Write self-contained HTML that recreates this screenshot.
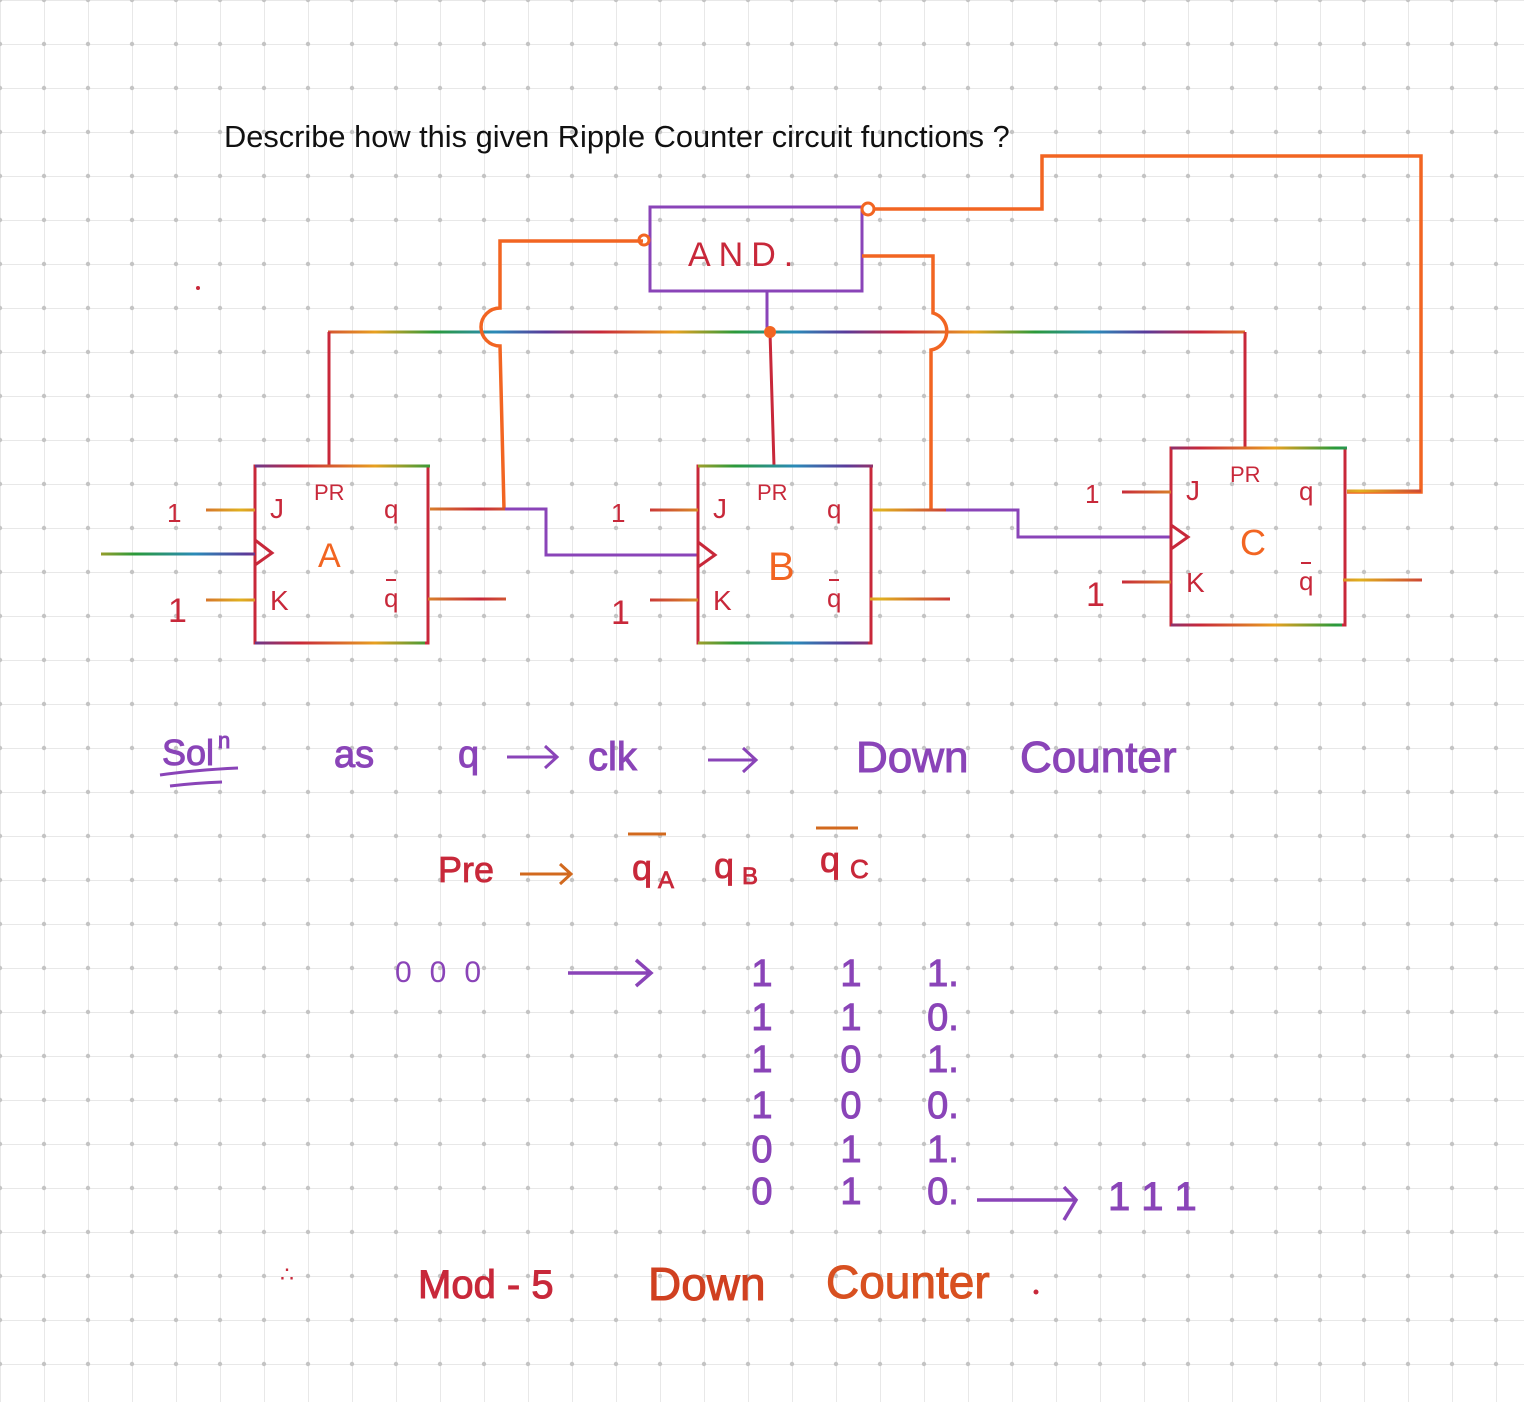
<!DOCTYPE html>
<html><head><meta charset="utf-8">
<style>
html,body{margin:0;padding:0;background:#fff;}
svg{display:block;}
text{font-family:"Liberation Sans",sans-serif;}
</style></head>
<body>
<svg id="s" width="1524" height="1402" viewBox="0 0 1524 1402" xmlns="http://www.w3.org/2000/svg">
<defs>
<pattern id="grid" width="44" height="44" patternUnits="userSpaceOnUse">
<path d="M0 0H44M0 0V44" stroke="#e8e8e8" stroke-width="2" fill="none"/>
<circle cx="0" cy="0" r="2.2" fill="#c4c4c4"/><circle cx="44" cy="0" r="2.2" fill="#c4c4c4"/><circle cx="0" cy="44" r="2.2" fill="#c4c4c4"/><circle cx="44" cy="44" r="2.2" fill="#c4c4c4"/>
</pattern>
<linearGradient id="rb" gradientUnits="userSpaceOnUse" x1="0" y1="0" x2="300" y2="0" spreadMethod="repeat">
<stop offset="0" stop-color="#c8283a"/><stop offset="0.25" stop-color="#e8a020"/><stop offset="0.45" stop-color="#2a9a3a"/><stop offset="0.65" stop-color="#2a8ab8"/><stop offset="0.82" stop-color="#5a3a9a"/><stop offset="1" stop-color="#c8283a"/>
</linearGradient>
<linearGradient id="ry" gradientUnits="userSpaceOnUse" x1="0" y1="0" x2="80" y2="0" spreadMethod="reflect">
<stop offset="0" stop-color="#c8283a"/><stop offset="1" stop-color="#e0b020"/>
</linearGradient>
</defs>
<rect width="1524" height="1402" fill="url(#grid)"/>

<text x="224" y="147" font-size="30.8" fill="#111">Describe how this given Ripple Counter circuit functions ?</text>
<circle cx="198" cy="288" r="2" fill="#c8283a"/>

<g>
<rect x="650" y="207" width="212" height="84" fill="none" stroke="#8a44b8" stroke-width="3"/>
<text x="688" y="266" font-size="34" fill="#c8283a" letter-spacing="8">AND.</text>
</g>

<g fill="none" stroke-width="3">
<path d="M328 332H1245" stroke="url(#rb)"/>
<path d="M329 332V466M770 332L774 466M1245 332V448" stroke="#c8283a"/>
<path d="M767 291V332" stroke="#8a44b8"/>
</g>

<g fill="none" stroke="#f26522" stroke-width="3.5">
<path d="M643 241H500V308A19 19 0 0 0 500 346L504 509"/>
<circle cx="644" cy="240" r="5" stroke-width="3"/>
<path d="M862 256H933V313A19 19 0 0 1 931 350V510"/>
<path d="M874 209H1042V156H1421V492H1347"/>
<circle cx="868" cy="209" r="6" stroke-width="3"/>
<circle cx="770" cy="332" r="6" fill="#f26522" stroke="none"/>
</g>

<g>
<rect x="255" y="466" width="173" height="177" fill="none" stroke="#c8283a" stroke-width="3"/>
<path d="M255 466H430M255 643H425" stroke="url(#rb)" stroke-width="3"/>
<path d="M255 540L272 553L255 565" fill="none" stroke="#c8283a" stroke-width="3"/>
<text x="270" y="518" font-size="28" fill="#c8283a">J</text>
<text x="314" y="500" font-size="22" fill="#c8283a">PR</text>
<text x="384" y="518" font-size="26" fill="#c8283a">q</text>
<text x="318" y="567" font-size="34" fill="#f26522">A</text>
<text x="270" y="610" font-size="28" fill="#c8283a">K</text>
<text x="384" y="607" font-size="26" fill="#c8283a">q</text><path d="M386 580H396" stroke="#c8283a" stroke-width="2"/>
<text x="167" y="522" font-size="26" fill="#c8283a">1</text>
<text x="168" y="622" font-size="34" fill="#c8283a">1</text>
<path d="M206 510H255M206 600H255" stroke="url(#ry)" stroke-width="3"/>
<path d="M101 554H255" stroke="url(#rb)" stroke-width="3"/>
<path d="M430 509H505M428 599H506" stroke="url(#ry)" stroke-width="3"/>
</g>
<path d="M505 509H546V555H698" fill="none" stroke="#8a44b8" stroke-width="3"/>

<g>
<rect x="698" y="466" width="173" height="177" fill="none" stroke="#c8283a" stroke-width="3"/>
<path d="M698 466H873M698 643H868" stroke="url(#rb)" stroke-width="3"/>
<path d="M698 542L715 555L698 567" fill="none" stroke="#c8283a" stroke-width="3"/>
<text x="713" y="518" font-size="28" fill="#c8283a">J</text>
<text x="757" y="500" font-size="22" fill="#c8283a">PR</text>
<text x="827" y="518" font-size="26" fill="#c8283a">q</text>
<text x="768" y="580" font-size="40" fill="#f26522">B</text>
<text x="713" y="610" font-size="28" fill="#c8283a">K</text>
<text x="827" y="607" font-size="26" fill="#c8283a">q</text><path d="M829 580H839" stroke="#c8283a" stroke-width="2"/>
<text x="611" y="522" font-size="26" fill="#c8283a">1</text>
<text x="611" y="624" font-size="34" fill="#c8283a">1</text>
<path d="M650 510H698M650 600H698" stroke="url(#ry)" stroke-width="3"/>
<path d="M873 510H946M870 599H950" stroke="url(#ry)" stroke-width="3"/>
</g>
<path d="M946 510H1018V537H1170" fill="none" stroke="#8a44b8" stroke-width="3"/>

<g>
<rect x="1171" y="448" width="174" height="177" fill="none" stroke="#c8283a" stroke-width="3"/>
<path d="M1171 448H1347M1171 625H1342" stroke="url(#rb)" stroke-width="3"/>
<path d="M1171 525L1188 537L1171 549" fill="none" stroke="#c8283a" stroke-width="3"/>
<text x="1186" y="500" font-size="28" fill="#c8283a">J</text>
<text x="1230" y="482" font-size="22" fill="#c8283a">PR</text>
<text x="1299" y="500" font-size="26" fill="#c8283a">q</text>
<text x="1240" y="555" font-size="36" fill="#f26522">C</text>
<text x="1186" y="592" font-size="28" fill="#c8283a">K</text>
<text x="1299" y="590" font-size="26" fill="#c8283a">q</text><path d="M1301 563H1311" stroke="#c8283a" stroke-width="2"/>
<text x="1085" y="503" font-size="26" fill="#c8283a">1</text>
<text x="1086" y="606" font-size="34" fill="#c8283a">1</text>
<path d="M1122 492H1171M1122 582H1171" stroke="url(#ry)" stroke-width="3"/>
<path d="M1347 491H1421M1343 580H1422" stroke="url(#ry)" stroke-width="3"/>
</g>

<g fill="#8a44b8" stroke="#8a44b8" stroke-width="1">
<text x="162" y="765" font-size="36">Sol</text><text x="218" y="748" font-size="22">n</text>
<path d="M160 775Q195 770 238 768M170 786Q195 783 222 782" stroke-width="3" fill="none"/>
<text x="334" y="767" font-size="38">as</text>
<text x="458" y="767" font-size="38">q</text>
<path d="M507 757H556M545 746L557 757L545 768" stroke-width="3" fill="none"/>
<text x="588" y="770" font-size="40">clk</text>
<path d="M708 760H756M743 748L756 760L743 772" stroke-width="3" fill="none"/>
<text x="856" y="772" font-size="44">Down</text>
<text x="1020" y="772" font-size="44">Counter</text>
</g>

<g fill="#c8283a" stroke="#c8283a" stroke-width="0.8">
<text x="438" y="882" font-size="36">Pre</text>
<path d="M520 874H570M560 864L571 874L560 884" stroke="#d2691e" stroke-width="3" fill="none"/>
<text x="632" y="880" font-size="36">q</text><text x="658" y="888" font-size="24">A</text>
<path d="M628 834H666" stroke="#d2691e" stroke-width="3"/>
<text x="714" y="878" font-size="36">q</text><text x="742" y="884" font-size="24">B</text>
<text x="820" y="872" font-size="36">q</text><text x="850" y="878" font-size="26">C</text>
<path d="M816 828H858" stroke="#d2691e" stroke-width="3"/>
</g>

<g fill="#8a44b8">
<text x="395" y="982" font-size="30" letter-spacing="18">000</text>
<path d="M568 973H650M636 960L651 973L636 986" stroke="#8a44b8" stroke-width="3.5" fill="none"/>
</g>

<g id="table"></g>

<g fill="#8a44b8">
<path d="M977 1200H1074M1064 1187L1076 1200L1064 1220" stroke="#8a44b8" stroke-width="3.5" fill="none"/>
<text x="1108" y="1210" font-size="40" letter-spacing="14" stroke="#8a44b8" stroke-width="1">111</text>
</g>

<g fill="#c8283a" stroke-width="1">
<text x="280" y="1282" font-size="22">∴</text>
<text x="418" y="1298" font-size="40" stroke="#c8283a">Mod - 5</text>
<text x="648" y="1300" font-size="46" fill="#d04020" stroke="#d04020">Down</text>
<text x="826" y="1298" font-size="46" fill="#d85020" stroke="#d85020">Counter</text>
<circle cx="1036" cy="1292" r="2.5"/>
</g>
</svg>
<script>
const columns = ["QA","QB","QC"];
const rowStates = ["111","110","101","100","011","010"];
const colX = [762, 851, 938];
const rowY = [986, 1030, 1072, 1118, 1162, 1204];
const g = document.getElementById('table');
const NS = 'http://www.w3.org/2000/svg';
rowStates.forEach((st, r) => {
  for (let c = 0; c < 3; c++) {
    const t = document.createElementNS(NS, 'text');
    
    
    t.setAttribute('x', colX[c] + (c === 2 ? 5 : 0));
    t.setAttribute('y', rowY[r]);
    t.setAttribute('font-size', '38');
    t.setAttribute('fill', '#8a44b8');
    t.setAttribute('stroke', '#8a44b8');
    t.setAttribute('stroke-width', '1');
    t.setAttribute('text-anchor', 'middle');
    t.textContent = st[c] + (c === 2 ? '.' : '');
    g.appendChild(t);
  }
});
</script>
</body></html>
